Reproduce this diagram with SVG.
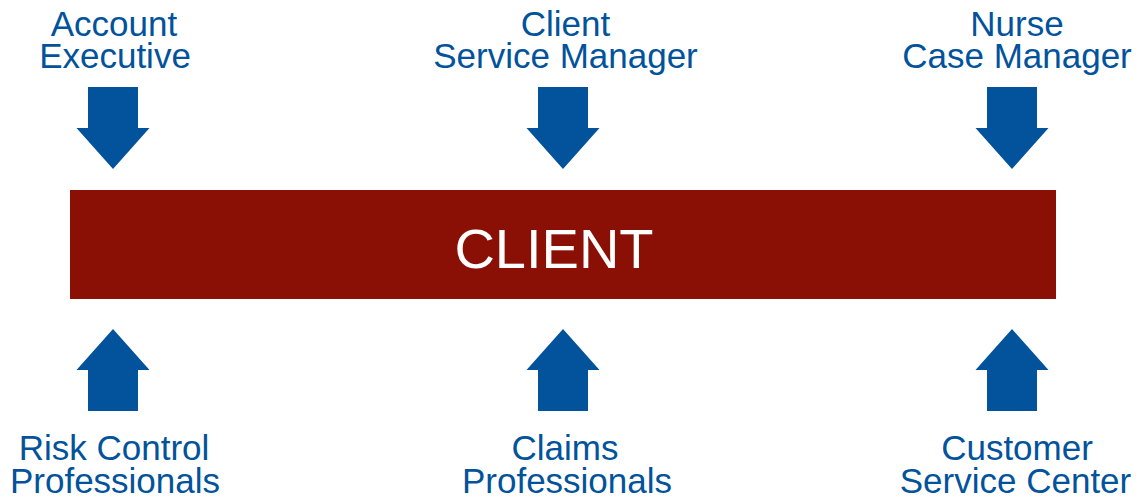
<svg xmlns="http://www.w3.org/2000/svg" width="1139" height="499" viewBox="0 0 1139 499">
  <style>
    .lbl { font-family: "Liberation Sans", Arial, sans-serif; font-size: 35px; fill: #02539B; text-anchor: middle; }
    .arrow { fill: #02539B; }
    .core { fill: #8A1006; }
    .core-text { font-family: "Liberation Sans", Arial, sans-serif; font-size: 56px; fill: #FFFFFF; text-anchor: middle; }
  </style>
  <defs>
    <!-- arrow pointing down, tip at origin -->
    <polygon id="down" points="-25,-82 25,-82 25,-41 36.5,-41 0,0 -36.5,-41 -25,-41"/>
    <!-- arrow pointing up, tip at origin -->
    <polygon id="up" points="-25,82 25,82 25,41 36.5,41 0,0 -36.5,41 -25,41"/>
  </defs>
  <rect width="1139" height="499" fill="#FFFFFF"/>

  <g id="client">
    <rect class="core" x="70" y="190" width="986" height="109"/>
    <text class="core-text" x="554" y="268">CLIENT</text>
  </g>

  <g id="connectors" class="arrow">
    <use href="#down" x="113" y="169"/>
    <use href="#down" x="563" y="169"/>
    <use href="#down" x="1012" y="169"/>
    <use href="#up" x="113" y="329"/>
    <use href="#up" x="563" y="329"/>
    <use href="#up" x="1012" y="329"/>
  </g>

  <g id="account-executive">
    <text class="lbl" x="114" y="36">Account</text>
    <text class="lbl" x="115" y="68">Executive</text>
  </g>
  <g id="client-service-manager">
    <text class="lbl" x="565.5" y="36">Client</text>
    <text class="lbl" x="565.5" y="68">Service Manager</text>
  </g>
  <g id="nurse-case-manager">
    <text class="lbl" x="1017" y="36">Nurse</text>
    <text class="lbl" x="1017" y="68">Case Manager</text>
  </g>
  <g id="risk-control-professionals">
    <text class="lbl" x="114" y="460">Risk Control</text>
    <text class="lbl" x="115" y="492.5">Professionals</text>
  </g>
  <g id="claims-professionals">
    <text class="lbl" x="565" y="460">Claims</text>
    <text class="lbl" x="567" y="492.5">Professionals</text>
  </g>
  <g id="customer-service-center">
    <text class="lbl" x="1017" y="460">Customer</text>
    <text class="lbl" x="1015.5" y="492.5">Service Center</text>
  </g>
</svg>
